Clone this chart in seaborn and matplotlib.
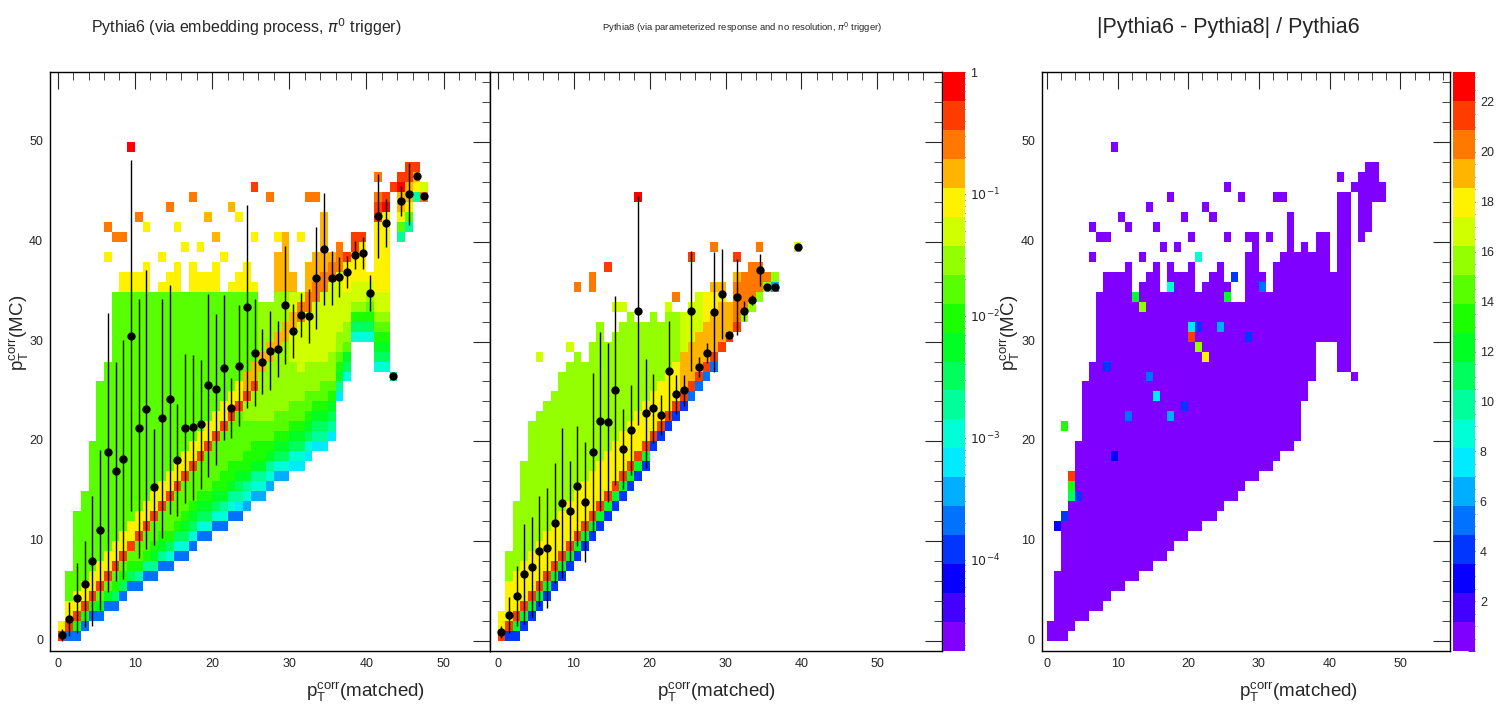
import numpy as np
import matplotlib
matplotlib.use("Agg")
import matplotlib.pyplot as plt
import seaborn as sns
import colorsys
from matplotlib.colors import ListedColormap
from matplotlib.ticker import MultipleLocator, FixedLocator

sns.set_style("white")
plt.rcParams['font.family'] = ['Liberation Sans', 'DejaVu Sans']

# ---------------- data ----------------
# Profile (mean pT MC per matched bin), Pythia6
p6_x = [i + 0.5 for i in range(48)]
p6_mean = [0.65, 2.2, 4.3, 5.7, 8.0, 11.1, 18.9, 17.0, 18.2, 30.6, 21.3, 23.2, 15.4, 22.3, 24.2, 18.1,
           21.3, 21.4, 21.7, 25.6, 25.2, 27.4, 23.3, 27.6, 33.5, 28.9, 28.0, 29.1, 29.3, 33.7, 31.1, 32.7,
           32.6, 36.4, 39.3, 36.4, 36.5, 37.0, 38.7, 38.9, 34.9, 42.6, 41.9, 26.6, 44.1, 44.8, 46.6, 44.6]
p6_err = [0.6, 1.7, 3.5, 4.3, 6.5, 8.0, 14.0, 11.0, 12.0, 17.6, 13.0, 14.0, 5.8, 12.0, 11.5, 5.6,
          7.5, 7.3, 6.5, 9.2, 7.6, 7.3, 3.0, 6.1, 10.2, 5.4, 3.3, 4.0, 2.8, 5.9, 2.7, 2.2,
          2.7, 5.1, 5.6, 2.7, 2.0, 1.6, 1.4, 1.6, 1.8, 4.2, 2.4, 0.3, 1.5, 3.1, 0.3, 0.3]
# Profile, Pythia8
p8_x = [i + 0.5 for i in range(37)] + [39.5]
p8_mean = [0.9, 2.6, 4.5, 6.7, 7.4, 9.0, 9.3, 11.8, 13.8, 13.0, 15.5, 13.9, 18.9, 22.0, 21.9, 25.1,
           19.2, 21.1, 33.1, 22.8, 23.3, 22.6, 27.1, 24.7, 25.1, 33.1, 27.5, 28.9, 33.0, 34.8, 30.7,
           34.5, 33.1, 34.2, 37.2, 35.5, 35.5, 39.5]
p8_err = [0.6, 1.8, 3.0, 5.0, 5.0, 5.5, 6.0, 6.0, 7.5, 5.0, 6.0, 6.0, 8.0, 9.0, 8.0, 9.5,
          4.0, 4.5, 11.5, 5.5, 3.5, 2.0, 5.0, 2.0, 1.6, 6.0, 1.0, 1.0, 6.0, 4.5, 0.4,
          3.8, 1.0, 0.5, 1.6, 0.3, 0.3, 0.3]

# filled y-bin ranges per matched-pT bin
p6_lo = [0, 0, 0, 1, 2, 2, 3, 3, 4, 5, 5, 6, 6, 7, 7, 8, 8, 9, 10, 10, 11, 11, 12, 12, 13, 14,
         14, 15, 16, 16, 17, 17, 18, 19, 19, 20, 24, 26, 30, 30, 30, 27, 27, 26, 40, 41, 44, 44]
p6_hi = [1, 6, 12, 14, 19, 25, 27, 34, 36, 36, 36, 37, 34, 35, 36, 37, 34, 37, 36, 36, 37, 34, 35,
         36, 37, 35, 33, 33, 38, 40, 36, 34, 37, 38, 42, 38, 39, 38, 40, 40, 36, 44, 44, 26, 46, 47, 47, 45]
p8_lo = [0, 0, 0, 1, 2, 3, 4, 5, 6, 7, 8, 9, 10, 11, 12, 13, 14, 15, 16, 17, 19, 20, 21, 22, 23, 24,
         25, 26, 27, 29, 30, 31, 32, 33, 34, 35, 35, 99, 99, 39]
p8_hi = [2, 8, 13, 17, 21, 22, 23, 24, 26, 27, 28, 27, 29, 31, 29, 30, 31, 32, 31, 31, 32, 31, 33,
         32, 32, 33, 34, 34, 35, 35, 33, 36, 36, 37, 37, 36, 36, 0, 0, 39]
# isolated cells (x bin, y bin, log10 value)
p6_sparse = [(9, 49, -0.1), (25, 45, -0.3), (17, 44, -0.7), (32, 44, -0.7), (33, 44, -0.5),
             (14, 43, -0.5), (10, 42, -0.5), (11, 41, -1.0), (6, 41, -0.5), (7, 40, -0.7),
             (8, 40, -0.7), (19, 42, -0.8), (23, 42, -1.0), (15, 41, -1.0), (27, 44, -0.5),
             (22, 43, -0.8), (28, 40, -1.0), (16, 39, -1.0), (18, 39, -1.0), (25, 40, -1.0),
             (20, 40, -0.9), (6, 38, -1.0), (13, 38, -1.0), (21, 38, -1.0), (31, 40, -1.0),
             (41, 46, -0.5), (43, 45, -0.3), (42, 43, -0.2), (44, 45, -0.2), (47, 44, -0.5)]
p8_sparse = [(18, 44, -0.1), (25, 38, -0.3), (28, 39, -0.5), (31, 38, -0.3), (34, 39, -0.5),
             (14, 37, -0.3), (12, 36, -0.5), (10, 35, -0.5), (12, 35, -0.5), (23, 34, -0.5),
             (5, 28, -1.2), (9, 29, -1.2), (15, 33, -1.2), (16, 33, -1.2), (22, 33, -1.2)]
# panel 3 hot cells (x bin, y bin, ratio)
p3_hot = [(3, 16, 21.5), (3, 15, 13.5), (3, 14, 10.5), (4, 14, 3.5), (20, 30, 21.0), (22, 28, 18.5),
          (21, 29, 15.5), (20, 31, 7.5), (21, 31, 3.5), (17, 35, 8.5), (12, 34, 12.5), (25, 34, 12.5),
          (21, 38, 8.5), (13, 33, 15.5), (11, 22, 5.5), (15, 24, 7.5), (17, 22, 6.5), (19, 23, 3.5),
          (2, 12, 3.5), (1, 11, 3.0), (2, 21, 13.0), (24, 31, 6.5), (28, 30, 3.5), (14, 26, 5.5),
          (8, 27, 3.5), (9, 18, 3.0), (26, 36, 3.5), (30, 35, 5.5)]

N = 58  # bins from -1 to 57


def build(lo, hi, sparse, diag_end, kind):
    m = np.full((N, N), np.nan)
    for x in range(len(lo)):
        for y in range(lo[x], hi[x] + 1):
            d = y - x
            boost = max(0, (x - 22) / 14.0)
            if d == 0 and x <= diag_end:
                v = -0.15
            elif 0 < d <= (2 if kind == 1 else 4):
                v = -1.0 + 0.5 * boost
            elif d > 0:
                v = (-1.9 if kind == 1 else -1.5) + 0.9 * boost
                if y > 34:
                    v = -1.1 + 0.4 * boost
            else:
                f = (x - y) / max(x - lo[x], 1)
                v = -1.7 - 1.9 * f ** 3 + 0.5 * boost
                if kind == 2:
                    v -= 0.3
                v = max(v, -4.6)
            m[y + 1, x + 1] = min(v, -0.4)
    for x, y, v in sparse:
        m[y + 1, x + 1] = v
    return m


M6 = build(p6_lo, p6_hi, p6_sparse, 25, 1)
M8 = build(p8_lo, p8_hi, p8_sparse, 31, 2)
M3 = np.where(np.isnan(M6), np.nan, 0.6)
for x, y, v in p3_hot:
    M3[y + 1, x + 1] = v

cols = [colorsys.hsv_to_rgb(0.75 * (1 - i / 19.0), 1, 1) for i in range(20)]
cmap = ListedColormap(cols)

fig = plt.figure(figsize=(15.02, 7.24), dpi=100)
ax1 = fig.add_axes([0.0333, 0.1008, 0.2929, 0.7997])
ax2 = fig.add_axes([0.3262, 0.1008, 0.3010, 0.7997])
cb1 = fig.add_axes([0.6278, 0.1008, 0.0146, 0.7997])
ax3 = fig.add_axes([0.6937, 0.1008, 0.2716, 0.7997])
cb3 = fig.add_axes([0.9674, 0.1008, 0.0146, 0.7997])

sns.heatmap(M6, ax=ax1, cmap=cmap, vmin=-4.75, vmax=0, cbar=False)
sns.heatmap(M8, ax=ax2, cmap=cmap, vmin=-4.75, vmax=0, cbar_ax=cb1)
sns.heatmap(M3, ax=ax3, cmap=cmap, vmin=0, vmax=23.2, cbar_ax=cb3)

ax1.errorbar(np.array(p6_x) + 1, np.array(p6_mean) + 1, yerr=p6_err, fmt='o', color='black',
             ms=5, elinewidth=1, capsize=0)
ax2.errorbar(np.array(p8_x) + 1, np.array(p8_mean) + 1, yerr=p8_err, fmt='o', color='black',
             ms=5, elinewidth=1, capsize=0)

xlims = {ax1: (0, 57), ax2: (0, 59.5), ax3: (0.3, 58)}
for ax in (ax1, ax2, ax3):
    ax.set_xlim(*xlims[ax])
    ax.set_ylim(0, N)
    ax.xaxis.set_major_locator(FixedLocator([t + 1 for t in range(0, 60, 10)]))
    ax.yaxis.set_major_locator(FixedLocator([t + 1 for t in range(0, 60, 10)]))
    ax.xaxis.set_minor_locator(FixedLocator([t + 1 for t in range(0, 58, 2)]))
    ax.yaxis.set_minor_locator(FixedLocator([t + 1 for t in range(0, 58, 2)]))
    ax.set_xticklabels([str(t) for t in range(0, 60, 10)], rotation=0)
    ax.set_yticklabels([str(t) for t in range(0, 60, 10)], rotation=0)
    ax.tick_params(which='both', direction='in', top=True, right=True, labelsize=9, pad=5)
    ax.tick_params(which='major', length=12)
    ax.tick_params(which='minor', length=6)
    for s in ax.spines.values():
        s.set_visible(True)
        s.set_color('black')
        s.set_linewidth(1)
    ax.set_xlabel(r'$\mathregular{p_T^{corr}}$(matched)', fontsize=13.5)
ax1.xaxis.set_label_coords(0.716, -0.05)
ax2.xaxis.set_label_coords(0.50, -0.05)
ax3.xaxis.set_label_coords(0.63, -0.05)
ax2.tick_params(labelleft=False)
ax1.set_ylabel(r'$\mathregular{p_T^{corr}}$(MC)', fontsize=13.5)
ax3.set_ylabel(r'$\mathregular{p_T^{corr}}$(MC)', fontsize=13.5)
ax1.yaxis.set_label_coords(-0.043, 0.55)
ax3.yaxis.set_label_coords(-0.048, 0.55)

cb1.yaxis.set_major_locator(FixedLocator([-4, -3, -2, -1, 0]))
cb1.set_yticklabels([r'$10^{-4}$', r'$10^{-3}$', r'$10^{-2}$', r'$10^{-1}$', '1'])
cb1.yaxis.set_minor_locator(FixedLocator(
    [np.log10(m * 10.0 ** e) for e in range(-5, 0) for m in range(2, 10) if np.log10(m * 10.0 ** e) > -4.75]))
cb3.yaxis.set_major_locator(FixedLocator(list(range(2, 24, 2))))
cb3.yaxis.set_minor_locator(MultipleLocator(0.5))
for cb in (cb1, cb3):
    cb.tick_params(which='both', direction='in', labelsize=9, right=True, left=False)
    cb.tick_params(which='major', length=10)
    cb.tick_params(which='minor', length=5)

fig.text(0.164, 0.962, r'Pythia6 (via embedding process, $\pi^0$ trigger)', fontsize=11.5,
         ha='center', va='center')
fig.text(0.494, 0.962, r'Pythia8 (via parameterized response and no resolution, $\pi^0$ trigger)',
         fontsize=6.8, ha='center', va='center')
fig.text(0.818, 0.962, '|Pythia6 - Pythia8| / Pythia6', fontsize=15.5, ha='center', va='center')

fig.savefig('out.png', dpi=100)
